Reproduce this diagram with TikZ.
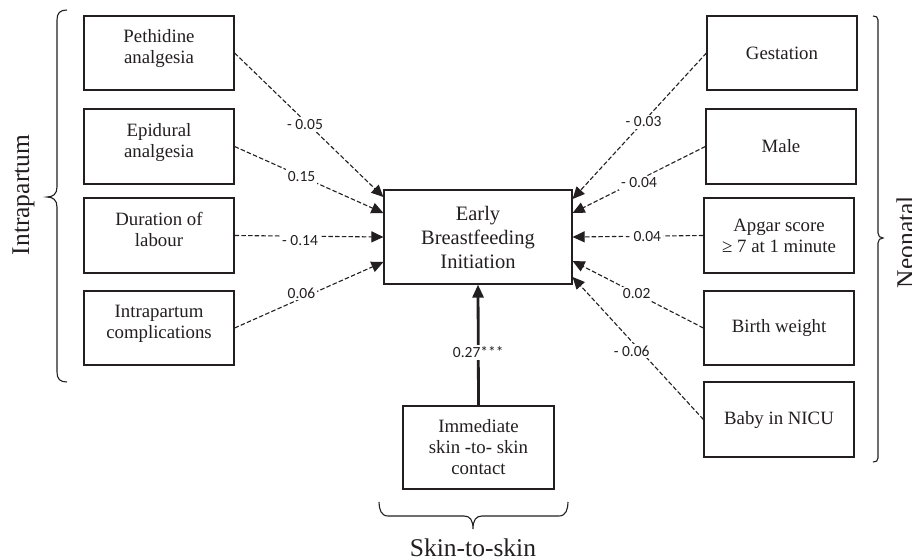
\documentclass[tikz,border=0pt]{standalone}
\usepackage{fontspec}
\setmainfont{Liberation Serif}
\newfontfamily\lblfont{Carlito}
\usetikzlibrary{arrows.meta,calc}
\definecolor{ink}{HTML}{231F20}
\begin{document}
\begin{tikzpicture}[x=1pt,y=-1pt,
  box/.style={draw=ink, text=ink, line width=1.2pt, minimum width=150pt, minimum height=74pt, align=center, font=\fontsize{18.8}{21}\selectfont, inner sep=2pt},
  lbox/.style={box, text depth=13pt},
  conn/.style={draw=ink, dash pattern=on 4.5pt off 2.2pt, line width=1.1pt, -{Triangle[length=12pt,width=11pt]}},
  lbl/.style={fill=white, text=ink, inner sep=2pt, font=\lblfont\fontsize{15.5}{18}\selectfont},
  grp/.style={text=ink, font=\fontsize{25.5}{30}\selectfont},
  brk/.style={draw=ink, line width=1.1pt}]
\useasboundingbox[fill=white] (0,0) rectangle (912,557);

% left group
\node[lbox] (pet) at (159,53) {Pethidine\\analgesia};
\node[lbox, minimum height=75pt] (epi) at (159,146.5) {Epidural\\analgesia};
\node[lbox, minimum height=75pt] (dur) at (159,235.5) {Duration of\\labour};
\node[lbox] (com) at (159,328) {Intrapartum\\complications};

% centre
\node[box, minimum width=188pt, minimum height=94pt, font=\fontsize{20.5}{24}\selectfont] (ebi) at (478,237) {Early\\Breastfeeding\\Initiation};

% right group
\node[box] (ges) at (782,53) {Gestation};
\node[box, minimum height=75pt] (mal) at (781,146.5) {Male};
\node[box, minimum height=75pt] (apg) at (779,235.5) {Apgar score\\≥ 7 at 1 minute};
\node[box] (bw) at (779,328) {Birth weight};
\node[box, minimum height=75pt] (nicu) at (779,419.5) {Baby in NICU};

% bottom
\node[box, minimum width=151pt, minimum height=83pt] (sts) at (478.5,447.5) {Immediate\\skin -to- skin\\contact};

% connectors left
\draw[conn] (pet.east) -- ($(ebi.west)+(0,-40)$) node[lbl,pos=0.5,xshift=-4pt]{- 0.05};
\draw[conn] (epi.east) -- ($(ebi.west)+(0,-24)$) node[lbl,pos=0.45]{0.15};
\draw[conn] (dur.east) -- (ebi.west) node[lbl,pos=0.44,yshift=-4pt]{- 0.14};
\draw[conn] (com.east) -- ($(ebi.west)+(0,25)$) node[lbl,pos=0.53,xshift=-12pt]{0.06};

% connectors right
\draw[conn] (ges.west) -- ($(ebi.east)+(0,-38)$) node[lbl,pos=0.47]{- 0.03};
\draw[conn] (mal.west) -- ($(ebi.east)+(0,-24)$) node[lbl,pos=0.5,yshift=-3pt]{- 0.04};
\draw[conn] (apg.west) -- (ebi.east) node[lbl,pos=0.46]{- 0.04};
\draw[conn] (bw.west) -- ($(ebi.east)+(0,24)$) node[lbl,pos=0.51]{0.02};
\draw[conn] (nicu.west) -- ($(ebi.east)+(0,40)$) node[lbl,pos=0.48,xshift=-9pt]{- 0.06};

% skin-to-skin
\draw[draw=ink, line width=2.8pt, -{Triangle[length=13pt,width=11pt]}] (sts.north) -- (ebi.south) node[lbl,pos=0.44]{0.27***};

% brackets
\draw[brk] (67,10) .. controls (60,10) and (57,13) .. (57,20) -- (57,187) .. controls (57,194) and (53,197) .. (47,197) .. controls (53,197) and (57,200) .. (57,207) -- (57,372) .. controls (57,379) and (60,382) .. (67,382);
\draw[brk] (873,16) .. controls (876,16) and (878,17) .. (878,20) -- (878,233) .. controls (878,236) and (880,238) .. (883,238) .. controls (880,238) and (878,240) .. (878,243) -- (878,458) .. controls (878,461) and (876,462) .. (873,462);
\draw[brk] (379,502) .. controls (379,509) and (381,516) .. (388,516) -- (464,516) .. controls (470,516) and (473,520) .. (473,529) .. controls (473,520) and (476,516) .. (482,516) -- (559,516) .. controls (566,516) and (568,509) .. (568,502);

% group labels
\node[grp, rotate=90, anchor=base] (lg) at (29,195) {Intrapartum};
\node[grp, rotate=90, anchor=base] (rg) at (914,242) {Neonatal};
\node[grp, anchor=base] (bg) at (473,556) {Skin-to-skin};
\end{tikzpicture}
\end{document}
